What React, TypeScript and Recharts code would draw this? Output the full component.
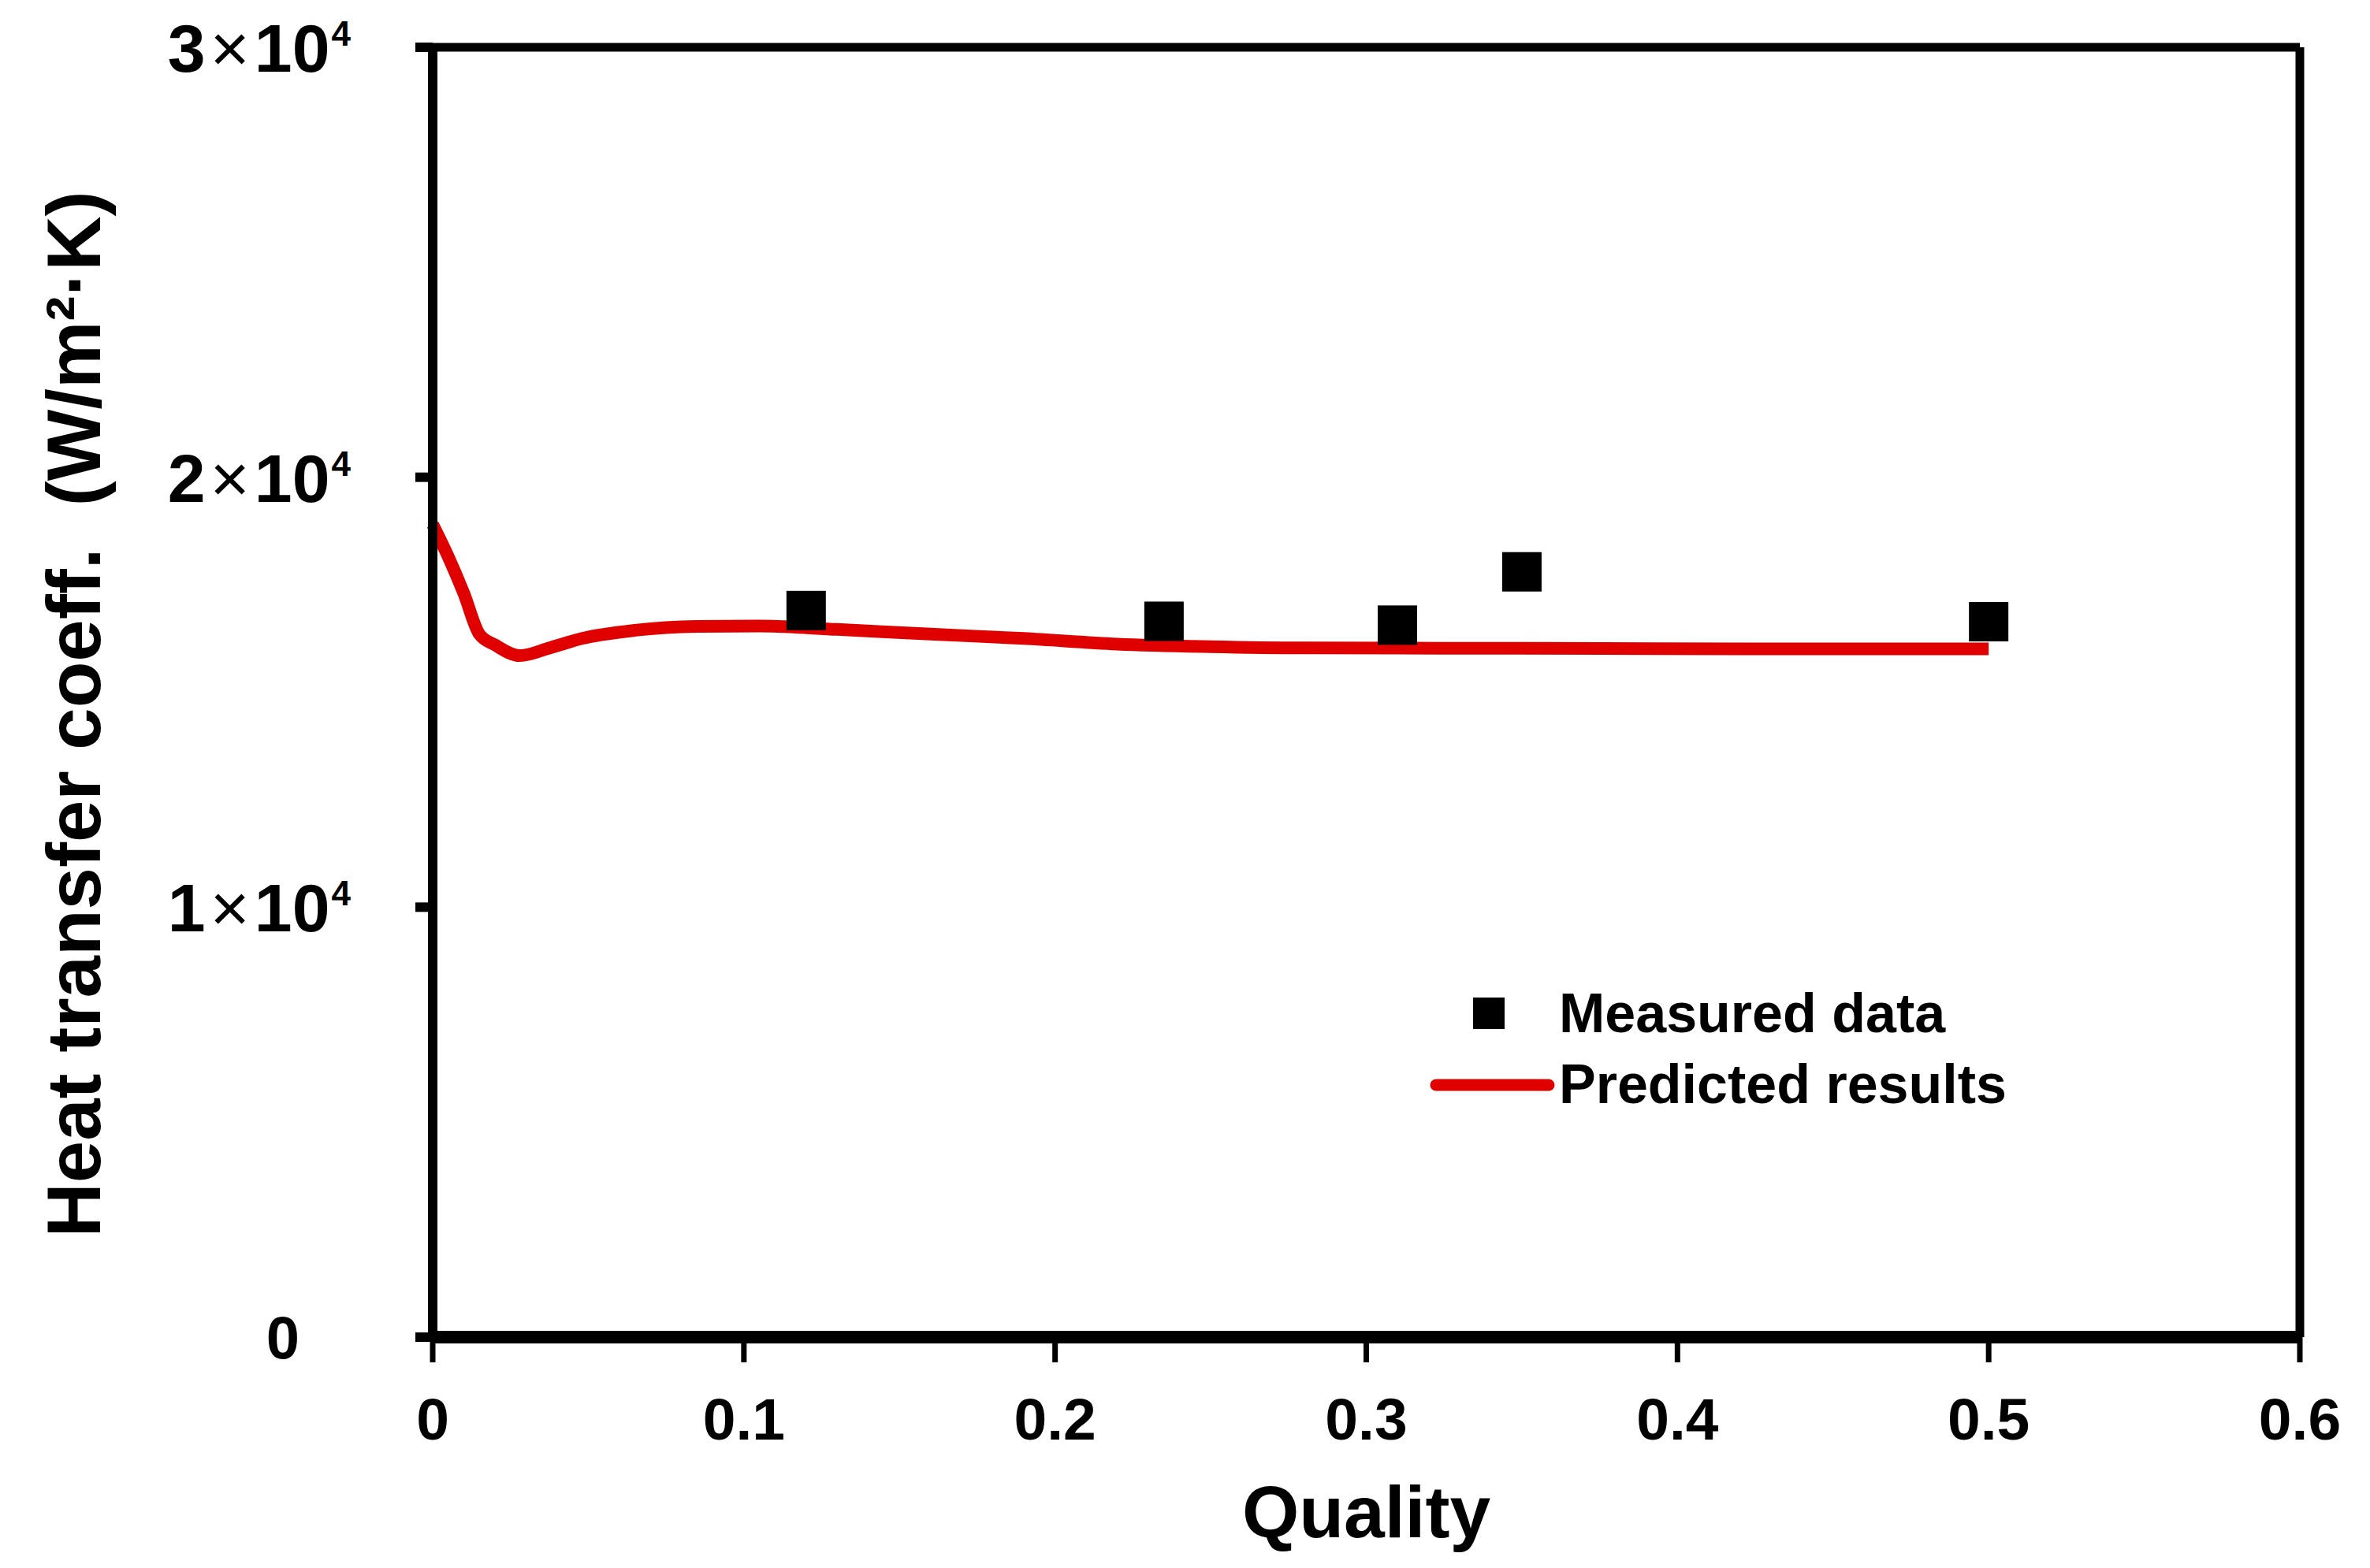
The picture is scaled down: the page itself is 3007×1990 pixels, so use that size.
// Heat transfer coefficient vs. quality: measured points and predicted curve
import {
  ComposedChart,
  Line,
  Scatter,
  XAxis,
  YAxis,
  ReferenceLine,
  Legend,
} from "recharts";

const FONT = '"Liberation Sans", Arial, sans-serif';
const RED = "#e00000";

// predicted results (red curve)
const predQuality = [
  0, 0.005, 0.01, 0.015, 0.02, 0.028, 0.038, 0.048, 0.065, 0.085, 0.105,
  0.13, 0.16, 0.19, 0.22, 0.25, 0.28, 0.35, 0.42, 0.5,
];
const predH = [
  18900, 18150, 17300, 16350, 16100, 15850, 16040, 16250, 16440, 16530,
  16540, 16460, 16350, 16250, 16120, 16060, 16030, 16020, 16010, 16010,
];

// measured data (black squares)
const measQuality = [0.12, 0.235, 0.31, 0.35, 0.5];
const measH = [16900, 16650, 16560, 17800, 16640];

const xTicks = [0, 0.1, 0.2, 0.3, 0.4, 0.5, 0.6];
const yTicks = [0, 10000, 20000, 30000];

const predicted = predQuality.map((x, i) => ({ x, y: predH[i] }));
const measured = measQuality.map((x, i) => ({ x, y: measH[i] }));

const Square = ({ cx, cy }: any) => (
  <rect x={cx - 25} y={cy - 25} width={50} height={50} fill="#000" />
);

const YTick = ({ x, y, payload }: any) => {
  const v = payload.value;
  const common = {
    y,
    dy: "0.36em",
    textAnchor: "end" as const,
    fill: "#000",
    fontFamily: FONT,
    fontWeight: 700,
    fontSize: 86,
  };
  if (v === 0) {
    return (
      <text {...common} x={x - 65} fontSize={76}>
        0
      </text>
    );
  }
  return (
    <text {...common} x={x}>
      <tspan>{v / 10000}</tspan>
      <tspan dx={6} fontWeight={400}>×</tspan>
      <tspan dx={6}>10</tspan>
      <tspan dx={2} dy="-0.75em" fontSize={44}>
        4
      </tspan>
    </text>
  );
};

const YTitle = ({ viewBox }: any) => {
  const cx = 127;
  const cy = viewBox.y + viewBox.height / 2 + 28;
  return (
    <text
      x={cx}
      y={cy}
      transform={`rotate(-90, ${cx}, ${cy})`}
      textAnchor="middle"
      fill="#000"
      fontFamily={FONT}
      fontWeight={700}
      fontSize={96}
      xmlSpace="preserve"
    >
      Heat transfer coeff.  (W/m²·K)
    </text>
  );
};

const XTitle = ({ viewBox }: any) => (
  <text
    x={viewBox.x + viewBox.width / 2}
    y={viewBox.y + 254}
    textAnchor="middle"
    fill="#000"
    fontFamily={FONT}
    fontWeight={700}
    fontSize={93}
  >
    Quality
  </text>
);

const LegendBox = () => (
  <svg width={800} height={220} style={{ display: "block" }}>
    <rect x={69} y={46} width={40} height={40} fill="#000" />
    <text x={178} y={90} fontFamily={FONT} fontWeight={700} fontSize={70} fill="#000">
      Measured data
    </text>
    <line
      x1={22}
      y1={157}
      x2={165}
      y2={157}
      stroke={RED}
      strokeWidth={15}
      strokeLinecap="round"
    />
    <text x={178} y={180} fontFamily={FONT} fontWeight={700} fontSize={70} fill="#000">
      Predicted results
    </text>
  </svg>
);

export default function App() {
  return (
    <div style={{ position: "absolute", left: 0, top: 0, background: "#fff" }}>
      <ComposedChart
        width={3007}
        height={1990}
        margin={{ top: 60, right: 89, bottom: 0, left: 0 }}
      >
        <XAxis
          type="number"
          dataKey="x"
          domain={[0, 0.6]}
          ticks={xTicks}
          height={293}
          axisLine={{ stroke: "#000", strokeWidth: 16 }}
          tickLine={{ stroke: "#000", strokeWidth: 7 }}
          tickSize={32}
          tickMargin={45}
          tick={{ fill: "#000", fontSize: 75, fontWeight: 700, fontFamily: FONT }}
          label={XTitle}
        />
        <YAxis
          type="number"
          domain={[0, 30000]}
          ticks={yTicks}
          width={549}
          axisLine={{ stroke: "#000", strokeWidth: 12 }}
          tickLine={{ stroke: "#000", strokeWidth: 12 }}
          tickSize={22}
          tickMargin={82}
          tick={YTick}
          label={YTitle}
        />
        <ReferenceLine y={30000} stroke="#000" strokeWidth={11} />
        <ReferenceLine x={0.6} stroke="#000" strokeWidth={11} />
        <Line
          data={predicted}
          dataKey="y"
          type="monotone"
          stroke={RED}
          strokeWidth={16}
          strokeLinejoin="round"
          dot={false}
          activeDot={false}
          isAnimationActive={false}
          legendType="line"
          name="Predicted results"
        />
        <Scatter
          data={measured}
          dataKey="y"
          shape={Square}
          isAnimationActive={false}
          name="Measured data"
        />
        <Legend
          verticalAlign="middle"
          align="center"
          content={LegendBox}
          wrapperStyle={{ left: 1800, top: 1220, width: 800, height: 220 }}
        />
      </ComposedChart>
    </div>
  );
}
